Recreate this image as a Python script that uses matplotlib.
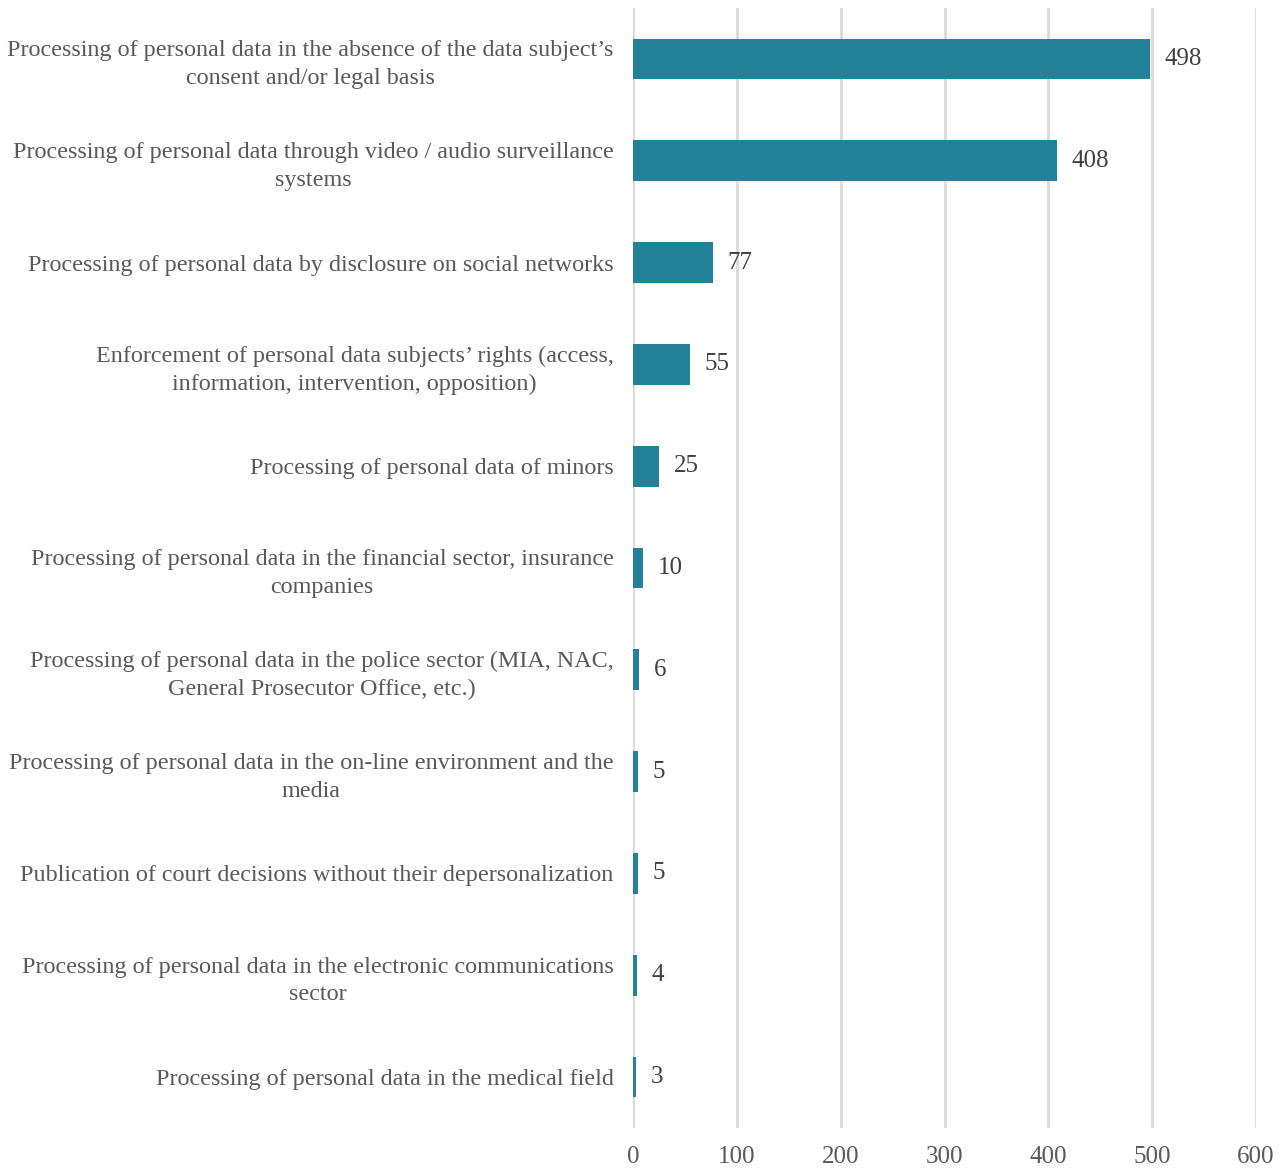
import matplotlib
matplotlib.use("Agg")
import matplotlib.pyplot as plt

categories = [
    "Processing of personal data in the absence of the data subject\u2019s\nconsent and/or legal basis",
    "Processing of personal data through video / audio surveillance\nsystems",
    "Processing of personal data by disclosure on social networks",
    "Enforcement of personal data subjects\u2019 rights (access,\ninformation, intervention, opposition)",
    "Processing of personal data of minors",
    "Processing of personal data in the financial sector, insurance\ncompanies",
    "Processing of personal data in the police sector (MIA, NAC,\nGeneral Prosecutor Office, etc.)",
    "Processing of personal data in the on-line environment and the\nmedia",
    "Publication of court decisions without their depersonalization",
    "Processing of personal data in the electronic communications\nsector",
    "Processing of personal data in the medical field",
]
values = [498, 408, 77, 55, 25, 10, 6, 5, 5, 4, 3]
xticks = [0, 100, 200, 300, 400, 500, 600]

plt.rcParams['font.family'] = ['Liberation Serif', 'DejaVu Serif']

fig = plt.figure(figsize=(12.87, 11.69), dpi=100)
ax = fig.add_axes([633/1287, 1 - 1128/1169, (1256-633)/1287, (1128-8)/1169])

ypos = list(range(len(categories)))
ax.barh(ypos, values, height=0.4, color='#23829A', zorder=3)
ax.set_ylim(len(categories) - 0.5, -0.5)
ax.set_xlim(0, 600)
ax.set_xticks(xticks)
ax.set_xticklabels([str(t) for t in xticks], fontsize=18, color='#595959')
ax.set_yticks(ypos)
ax.set_yticklabels(categories, fontsize=17.4, color='#595959', linespacing=1.4)
for lbl in ax.get_yticklabels():
    lbl.set_multialignment('center')
ax.tick_params(axis='y', length=0, pad=14)
ax.tick_params(axis='x', length=0, pad=13)
for s in ax.spines.values():
    s.set_visible(False)
ax.grid(axis='x', color='#d9d9d9', linewidth=2, zorder=0)
ax.set_axisbelow(True)

for y, v in zip(ypos, values):
    ax.text(v + 14, y, str(v), va='center', ha='left', fontsize=18, color='#404040')

fig.savefig("out.png", dpi=100)
